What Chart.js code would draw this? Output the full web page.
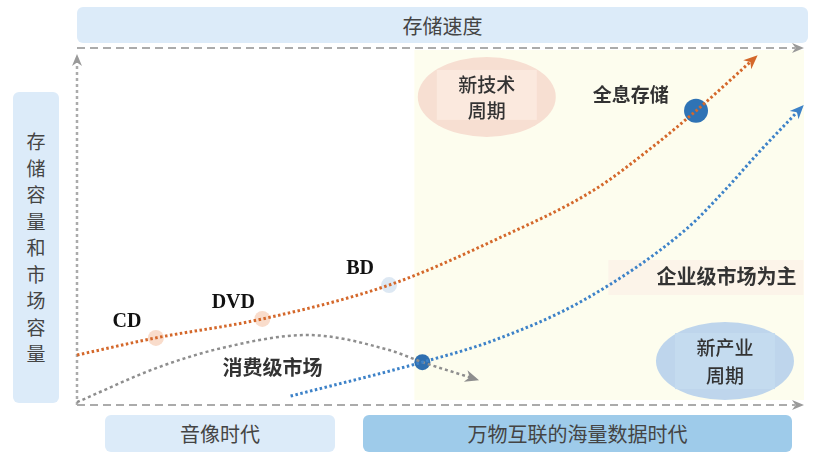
<!DOCTYPE html>
<html>
<head>
<meta charset="utf-8">
<script src="https://cdn.jsdelivr.net/npm/chart.js@4/dist/chart.umd.min.js"></script>
<style>
  body { margin: 0; background: #fff; font-family: "Noto Sans CJK SC", "Noto Sans", sans-serif; }
  #wrap { position: relative; width: 813px; height: 453px; overflow: hidden; }
  #storageChart { position: absolute; left: 0; top: 0; }
  .band { position: absolute; background: #dcebf9; border-radius: 6px; color: #444;
          font-size: 20px; display: flex; align-items: center; justify-content: center; }
  #bandTop { left: 77px; top: 7px; width: 731px; height: 36px; }
  #bandLeft { left: 13px; top: 92px; width: 46px; height: 311px; flex-direction: column;
              justify-content: center; line-height: 26.5px; font-size: 19px; }
  #bandAv { left: 105px; top: 415px; width: 230px; height: 37px; }
  #bandIot { left: 363px; top: 415px; width: 429px; height: 37px; background: #9ecbea; }
</style>
</head>
<body>
<div id="wrap">
  <canvas id="storageChart" width="813" height="453"></canvas>
  <div class="band" id="bandTop">存储速度</div>
  <div class="band" id="bandLeft"></div>
  <div class="band" id="bandAv">音像时代</div>
  <div class="band" id="bandIot">万物互联的海量数据时代</div>
</div>
<script>
// storage tech curve (CD -> DVD -> BD -> holographic)
const techX = [0, 10.9, 25.6, 43.1, 57.7, 71.4, 79.5, 85.5, 93.6];
const techY = [14.0, 18.8, 24.1, 33.6, 46.2, 60.2, 72.3, 82.4, 97.2];

// enterprise market curve
const enterpriseX = [29.5, 47.7, 57.7, 70.0, 84.0, 89.5, 94.1, 100];
const enterpriseY = [2.5, 12.0, 18.2, 29.4, 49.0, 60.2, 70.6, 83.2];

// consumer market curve
const consumerX = [0, 11.3, 20.5, 31.8, 43.1, 47.7, 55.0];
const consumerY = [0.8, 10.6, 16.2, 19.6, 15.4, 12.0, 7.3];

// milestones on the curves
const mediaLabels = ['CD', 'DVD', 'BD'];
const mediaX = [10.9, 25.6, 43.1];
const mediaY = [18.8, 24.1, 33.6];
const holoX = [85.5];
const holoY = [82.4];
const turnX = [47.7];
const turnY = [12.0];

const leftTitle = '存储容量和市场容量';
document.getElementById('bandLeft').innerHTML =
  leftTitle.split('').map(c => '<span>' + c + '</span>').join('');

const toPoints = (xs, ys) => xs.map((x, i) => ({ x: x, y: ys[i] }));

function drawArrow(ctx, x, y, angle, len, half, color) {
  ctx.save();
  ctx.translate(x, y);
  ctx.rotate(angle);
  ctx.fillStyle = color;
  ctx.beginPath();
  ctx.moveTo(0, 0);
  ctx.lineTo(-len, -half);
  ctx.lineTo(-len * 0.7, 0);
  ctx.lineTo(-len, half);
  ctx.closePath();
  ctx.fill();
  ctx.restore();
}

function ellipse(ctx, cx, cy, rx, ry, color) {
  ctx.fillStyle = color;
  ctx.beginPath();
  ctx.ellipse(cx, cy, rx, ry, 0, 0, Math.PI * 2);
  ctx.fill();
}

// background areas, bubbles and frame lines
const backdrop = {
  id: 'backdrop',
  beforeDatasetsDraw(chart) {
    const { ctx, scales: { x, y }, chartArea: a } = chart;
    ctx.save();
    // IoT era shading
    const sx = x.getPixelForValue(46.6);
    ctx.fillStyle = '#fdfdee';
    ctx.fillRect(sx, a.top + 2, a.right + 3 - sx, a.bottom - a.top - 7);

    // new tech cycle bubble
    const tx = x.getPixelForValue(56.6), ty = y.getPixelForValue(86.3);
    ellipse(ctx, tx, ty, 69, 40, '#f7dfd2');
    ctx.fillStyle = '#fbe9de';
    ctx.fillRect(tx - 50, ty - 27, 100, 50);

    // new industry cycle bubble
    const ix = x.getPixelForValue(89.5), iy = y.getPixelForValue(12.3);
    ellipse(ctx, ix, iy, 69, 39, '#bed5ec');
    ctx.fillStyle = '#c4dbef';
    ctx.fillRect(ix - 50, iy - 28, 100, 56);

    // enterprise label backing
    ctx.fillStyle = '#fcf4e9';
    ctx.fillRect(x.getPixelForValue(73.4), y.getPixelForValue(40.6), 195, 35);

    // frame lines
    ctx.strokeStyle = '#ababab';
    ctx.lineWidth = 2;
    ctx.setLineDash([8, 5]);
    ctx.beginPath();
    ctx.moveTo(a.left, a.top);
    ctx.lineTo(a.right - 6, a.top);
    ctx.moveTo(a.left, a.bottom);
    ctx.lineTo(a.right - 6, a.bottom);
    ctx.stroke();
    ctx.lineWidth = 2.5;
    ctx.setLineDash([3, 3]);
    ctx.beginPath();
    ctx.moveTo(a.left, a.bottom);
    ctx.lineTo(a.left, a.top + 14);
    ctx.stroke();
    ctx.setLineDash([]);
    drawArrow(ctx, a.right + 3, a.top, 0, 12, 5, '#9a9a9a');
    drawArrow(ctx, a.right + 3, a.bottom, 0, 12, 5, '#9a9a9a');
    drawArrow(ctx, a.left, a.top + 6, -Math.PI / 2, 12, 5, '#9a9a9a');
    ctx.restore();
  }
};

// arrowheads at curve ends and text labels
const notes = {
  id: 'notes',
  afterDatasetsDraw(chart) {
    const { ctx, scales: { x, y } } = chart;
    ctx.save();
    [0, 1, 2].forEach(i => {
      const pts = chart.getDatasetMeta(i).data;
      const end = pts[pts.length - 1];
      const prev = pts[pts.length - 2];
      const bx = end.cp1x !== undefined ? end.cp1x : prev.x;
      const by = end.cp1y !== undefined ? end.cp1y : prev.y;
      const ang = Math.atan2(end.y - by, end.x - bx);
      drawArrow(ctx, end.x + Math.cos(ang) * 4, end.y + Math.sin(ang) * 4, ang, 14, 6,
        chart.data.datasets[i].arrowColor);
    });

    ctx.textAlign = 'center';
    ctx.textBaseline = 'middle';
    ctx.fillStyle = '#111';
    ctx.font = 'bold 20px "Liberation Serif", "DejaVu Serif", serif';
    mediaLabels.forEach((t, i) => {
      ctx.fillText(t, x.getPixelForValue(mediaX[i]) - 29, y.getPixelForValue(mediaY[i]) - 16);
    });

    ctx.fillStyle = '#333';
    ctx.font = 'bold 19px "Noto Sans CJK SC", sans-serif';
    ctx.fillText('全息存储', x.getPixelForValue(76.5), y.getPixelForValue(86.8));
    ctx.font = 'bold 20px "Noto Sans CJK SC", sans-serif';
    ctx.fillText('消费级市场', x.getPixelForValue(27), y.getPixelForValue(10.6));
    ctx.fillText('企业级市场为主', x.getPixelForValue(89.7), y.getPixelForValue(35.9));

    ctx.font = '500 19px "Noto Sans CJK SC", sans-serif';
    const tx = x.getPixelForValue(56.6), ty = y.getPixelForValue(86.3);
    ctx.fillText('新技术', tx, ty - 12);
    ctx.fillText('周期', tx, ty + 14);
    const ix = x.getPixelForValue(89.5), iy = y.getPixelForValue(12.3);
    ctx.fillText('新产业', ix, iy - 13);
    ctx.fillText('周期', ix, iy + 15);
    ctx.restore();
  }
};

const curve = (data, color, dash, width) => ({
  type: 'line',
  data: data,
  borderColor: color,
  arrowColor: color,
  borderWidth: width,
  borderDash: dash,
  pointRadius: 0,
  cubicInterpolationMode: 'monotone',
  fill: false,
  clip: false
});

new Chart(document.getElementById('storageChart'), {
  type: 'scatter',
  data: {
    datasets: [
      curve(toPoints(techX, techY), '#d4682b', [2.5, 2.5], 3),
      curve(toPoints(enterpriseX, enterpriseY), '#3d82c8', [2.5, 2.5], 3),
      curve(toPoints(consumerX, consumerY), '#8e8e8e', [3, 3], 2.5),
      {
        data: toPoints(mediaX, mediaY),
        pointRadius: 8,
        pointBackgroundColor: ['#f9dccb', '#f9dccb', '#dde8f3'],
        pointBorderWidth: 0,
        clip: false
      },
      {
        data: toPoints(holoX, holoY),
        pointRadius: 12,
        pointBackgroundColor: '#2f73b5',
        pointBorderWidth: 0,
        clip: false
      },
      {
        data: toPoints(turnX, turnY),
        pointRadius: 8,
        pointBackgroundColor: '#2f6fb0',
        pointBorderWidth: 0,
        clip: false
      }
    ]
  },
  options: {
    responsive: false,
    animation: false,
    layout: { padding: { left: 77, top: 48, right: 3, bottom: 48 } },
    plugins: { legend: { display: false }, tooltip: { enabled: false } },
    scales: {
      x: { type: 'linear', min: 0, max: 100, display: false },
      y: { type: 'linear', min: 0, max: 100, display: false }
    }
  },
  plugins: [backdrop, notes]
});
</script>
</body>
</html>
